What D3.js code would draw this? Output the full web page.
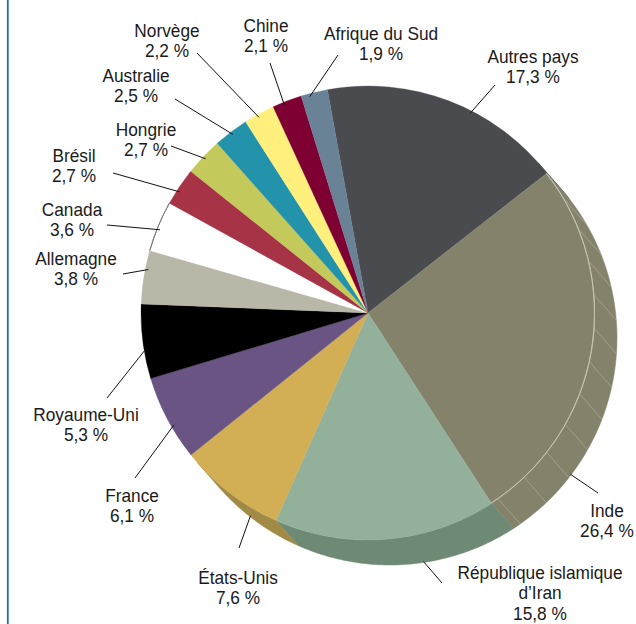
<!DOCTYPE html>
<html>
<head>
<meta charset="utf-8">
<script src="https://cdn.jsdelivr.net/npm/d3@7/dist/d3.min.js"></script>
<style>
  body { margin: 0; background: #fff; }
  svg { display: block; }
</style>
</head>
<body>
<div id="graf"></div>
<script>
// I. Données
pays = ['Autres pays', 'Inde', 'République islamique|d’Iran', 'États-Unis', 'France',
        'Royaume-Uni', 'Allemagne', 'Canada', 'Brésil', 'Hongrie', 'Australie',
        'Norvège', 'Chine', 'Afrique du Sud']
parts = [17.3, 26.4, 15.8, 7.6, 6.1, 5.3, 3.8, 3.6, 2.7, 2.7, 2.5, 2.2, 2.1, 1.9]
couleurs = ['#4a4b4f', '#85826b', '#93b09a', '#d2ae55', '#6a5483', '#000000', '#b9b8a8',
            '#ffffff', '#a63446', '#c3c95a', '#2393ac', '#fff07e', '#7e0033', '#6a8296']
couleursCote = ['#3a3b3e', '#85826b', '#6f8a74', '#a08a45']

// placement des étiquettes : centre x, ligne de base y, bout du trait, fraction de la part
etiquettes = [
  { x: 533, y: 63,  lx: 495, ly: 85,  f: 0.60 },
  { x: 607, y: 517, lx: 598, ly: 493, f: 0.79, cote: true },
  { x: 540, y: 579, lx: 442, ly: 583, f: 0.43, cote: true },
  { x: 238, y: 584, lx: 239, ly: 548, f: 0.52, cote: true },
  { x: 132, y: 502, lx: 135, ly: 478, f: 0.40 },
  { x: 86,  y: 421, lx: 107, ly: 398, f: 0.41 },
  { x: 76,  y: 265, lx: 123, ly: 274, f: 0.65 },
  { x: 72,  y: 216, lx: 107, ly: 225, f: 0.45 },
  { x: 74,  y: 162, lx: 113, ly: 173, f: 0.39 },
  { x: 146, y: 136, lx: 171, ly: 146, f: 0.50 },
  { x: 136, y: 82,  lx: 175, ly: 99,  f: 0.50 },
  { x: 167, y: 37,  lx: 197, ly: 53,  f: 0.44 },
  { x: 266, y: 32,  lx: 270, ly: 63,  f: 0.37 },
  { x: 381, y: 40,  lx: 338, ly: 55,  f: 0.30 }
]

// II. Configuration
ancho = 636
alto = 624
cx = 368
cy = 313
R = 227
dx = 22   // profondeur du relief
dy = 25
interligne = 20.5

svg = d3.select('#graf').append('svg')
        .attr('width', ancho)
        .attr('height', alto)

svg.append('line')
   .attr('x1', 7.8).attr('x2', 7.8)
   .attr('y1', 0).attr('y2', alto)
   .attr('stroke', '#2470a0')
   .attr('stroke-width', 1.8)

rad = d => d * Math.PI / 180
pie = d3.pie().sort(null).value(d => d)
        .startAngle(rad(-10.3)).endAngle(rad(349.7))
arcs = pie(parts)

arc = d3.arc().innerRadius(0).outerRadius(R)
pt = (a, r, ox = 0, oy = 0) => [cx + ox + r * Math.sin(a), cy + oy - r * Math.cos(a)]

// côté visible du cylindre
visA = Math.atan2(dy, dx)
visB = visA + Math.PI

function cote(d) {
  lo = Math.max(d.startAngle, visA)
  hi = Math.min(d.endAngle, visB)
  if (hi <= lo) return null
  pas = d3.range(0, 61).map(i => lo + (hi - lo) * i / 60)
  avant = pas.map(a => pt(a, R))
  arriere = pas.slice().reverse().map(a => pt(a, R, dx, dy))
  return d3.line()(avant.concat(arriere)) + 'Z'
}

g = svg.append('g')

// III. Dessin
g.selectAll('path.cote')
  .data(arcs.filter(d => cote(d) !== null))
  .enter()
  .append('path')
    .attr('class', 'cote')
    .attr('d', d => cote(d))
    .attr('fill', d => couleursCote[d.index] || couleurs[d.index])
    .attr('stroke', d => couleursCote[d.index] || couleurs[d.index])
    .attr('stroke-width', 0.5)

// hachures du côté de l'Inde
inde = arcs[1]
hach = d3.range(inde.startAngle + rad(8), Math.min(inde.endAngle, visB) - rad(1), rad(8.5))
g.selectAll('line.hach')
  .data(hach)
  .enter()
  .append('line')
    .attr('x1', a => pt(a, R)[0]).attr('y1', a => pt(a, R)[1])
    .attr('x2', a => pt(a, R, dx, dy)[0]).attr('y2', a => pt(a, R, dx, dy)[1])
    .attr('stroke', '#b3b19d')
    .attr('stroke-width', 0.6)

g.selectAll('path.part')
  .data(arcs)
  .enter()
  .append('path')
    .attr('class', 'part')
    .attr('transform', `translate(${cx}, ${cy})`)
    .attr('d', arc)
    .attr('fill', d => couleurs[d.index])
    .attr('stroke', d => couleurs[d.index])
    .attr('stroke-width', 0.3)

// filet clair sur le bord de l'Inde
g.append('path')
  .attr('transform', `translate(${cx}, ${cy})`)
  .attr('d', d3.arc().innerRadius(R - 0.5).outerRadius(R - 0.5)
               .startAngle(inde.startAngle).endAngle(inde.endAngle)())
  .attr('fill', 'none')
  .attr('stroke', '#cfcdb9')
  .attr('stroke-width', 0.7)

// contour du Canada (blanc)
canada = arcs[7]
g.append('path')
  .attr('transform', `translate(${cx}, ${cy})`)
  .attr('d', d3.arc().innerRadius(R).outerRadius(R)
               .startAngle(canada.startAngle).endAngle(canada.endAngle)())
  .attr('fill', 'none')
  .attr('stroke', '#777')
  .attr('stroke-width', 0.9)

// traits de rappel
function bout(d, e) {
  a = d.startAngle + (d.endAngle - d.startAngle) * e.f
  return e.cote ? pt(a, R - 1, dx, dy) : pt(a, R - 3)
}
g.selectAll('line.rappel')
  .data(arcs)
  .enter()
  .append('line')
    .attr('x1', d => etiquettes[d.index].lx)
    .attr('y1', d => etiquettes[d.index].ly)
    .attr('x2', d => bout(d, etiquettes[d.index])[0])
    .attr('y2', d => bout(d, etiquettes[d.index])[1])
    .attr('stroke', '#111')
    .attr('stroke-width', 1)

// étiquettes
lab = g.selectAll('g.lab')
  .data(arcs)
  .enter()
  .append('g')
    .attr('class', 'lab')
    .attr('transform', d => `translate(${etiquettes[d.index].x}, ${etiquettes[d.index].y}) scale(0.96, 1.06)`)

lab.each(function(d) {
  lignes = pays[d.index].split('|')
  lignes.push(String(parts[d.index]).replace('.', ',') + ' %')
  d3.select(this).selectAll('text')
    .data(lignes)
    .enter()
    .append('text')
      .attr('x', 0)
      .attr('y', (t, i) => i * interligne / 1.06)
      .attr('text-anchor', 'middle')
      .style('font-family', '"Liberation Sans", Arial, sans-serif')
      .style('font-size', '18px')
      .style('fill', '#1a1a1a')
      .text(t => t)
})
</script>
</body>
</html>
